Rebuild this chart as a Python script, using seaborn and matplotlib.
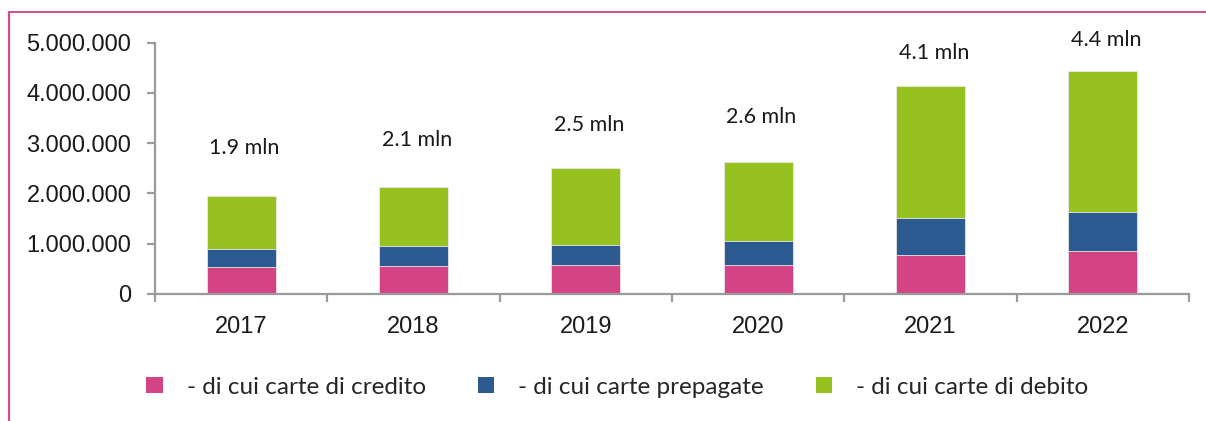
import numpy as np
import matplotlib
matplotlib.use("Agg")
import matplotlib.pyplot as plt
import seaborn as sns
from matplotlib.lines import Line2D
from matplotlib.patches import Patch
from matplotlib.ticker import FuncFormatter, FixedLocator

years = ['2017', '2018', '2019', '2020', '2021', '2022']
credito = [540000, 560000, 580000, 580000, 780000, 860000]
prepagate = [360000, 400000, 400000, 460000, 730000, 770000]
debito = [1050000, 1170000, 1530000, 1590000, 2630000, 2810000]
total_labels = ['1.9 mln', '2.1 mln', '2.5 mln', '2.6 mln', '4.1 mln', '4.4 mln']
label_heights = [2.90e6, 3.06e6, 3.36e6, 3.52e6, 4.79e6, 5.05e6]

series_names = ['- di cui carte di credito', '- di cui carte prepagate', '- di cui carte di debito']
colors = ['#d44383', '#2c5b91', '#96c11f']

sns.set_style('white')
plt.rcParams['font.family'] = ['Liberation Sans', 'DejaVu Sans']

fig = plt.figure(figsize=(12.06, 4.21), dpi=100)
ax = fig.add_axes([155 / 1206, 1 - 293.7 / 421, (1189 - 155) / 1206, (293.7 - 42.7) / 421])

# stacked bars: draw cumulative totals back to front
cred = np.array(credito)
prep = cred + np.array(prepagate)
tot = prep + np.array(debito)
for vals, col in zip([tot, prep, cred], colors[::-1]):
    sns.barplot(x=years, y=vals, color=col, width=0.4, saturation=1,
                edgecolor='#e8e8e8', linewidth=0.6, ax=ax)

for i, (lab, h) in enumerate(zip(total_labels, label_heights)):
    ax.text(i + 0.02, h, lab, ha='center', va='center', fontsize=15.5,
            family='Lato', color='#1a1a1a')

ax.set_xlim(-0.5, 5.5)
ax.set_ylim(0, 5000000)
ax.set_yticks(np.arange(0, 5000001, 1000000))
ax.yaxis.set_major_formatter(FuncFormatter(lambda v, p: f"{int(v):,}".replace(',', '.')))
ax.xaxis.set_minor_locator(FixedLocator(np.arange(-0.5, 6, 1)))

gray = '#9a9a9a'
for side in ['top', 'right']:
    ax.spines[side].set_visible(False)
for side in ['left', 'bottom']:
    ax.spines[side].set_color(gray)
    ax.spines[side].set_linewidth(1.6)

ax.tick_params(axis='y', direction='out', length=6, width=1.6, color=gray,
               labelsize=17, pad=11, labelcolor='#1a1a1a', left=True)
ax.tick_params(axis='x', which='major', length=0, labelsize=17, pad=16,
               labelcolor='#1a1a1a')
ax.tick_params(axis='x', which='minor', direction='out', length=6, width=1.6,
               color=gray, bottom=True)
ax.set_xlabel('')
ax.set_ylabel('')

handles = [Patch(facecolor=c, edgecolor='none') for c in colors]
fig.legend(handles, series_names, loc='center', bbox_to_anchor=(617.5 / 1206, 1 - 387 / 421),
           ncol=3, frameon=False, handlelength=0.66, handleheight=0.66,
           handletextpad=1.0, columnspacing=2.14, prop={'family': 'Lato', 'size': 17.5})

# pink frame on left and top
pink = '#d14b8f'
fig.add_artist(Line2D([8.5 / 1206, 8.5 / 1206], [0, 1 - 11.5 / 421], color=pink, lw=1.6,
                      transform=fig.transFigure))
fig.add_artist(Line2D([8.5 / 1206, 1], [1 - 11.5 / 421, 1 - 11.5 / 421], color=pink, lw=1.4,
                      transform=fig.transFigure))

fig.savefig('out.png', dpi=100)
